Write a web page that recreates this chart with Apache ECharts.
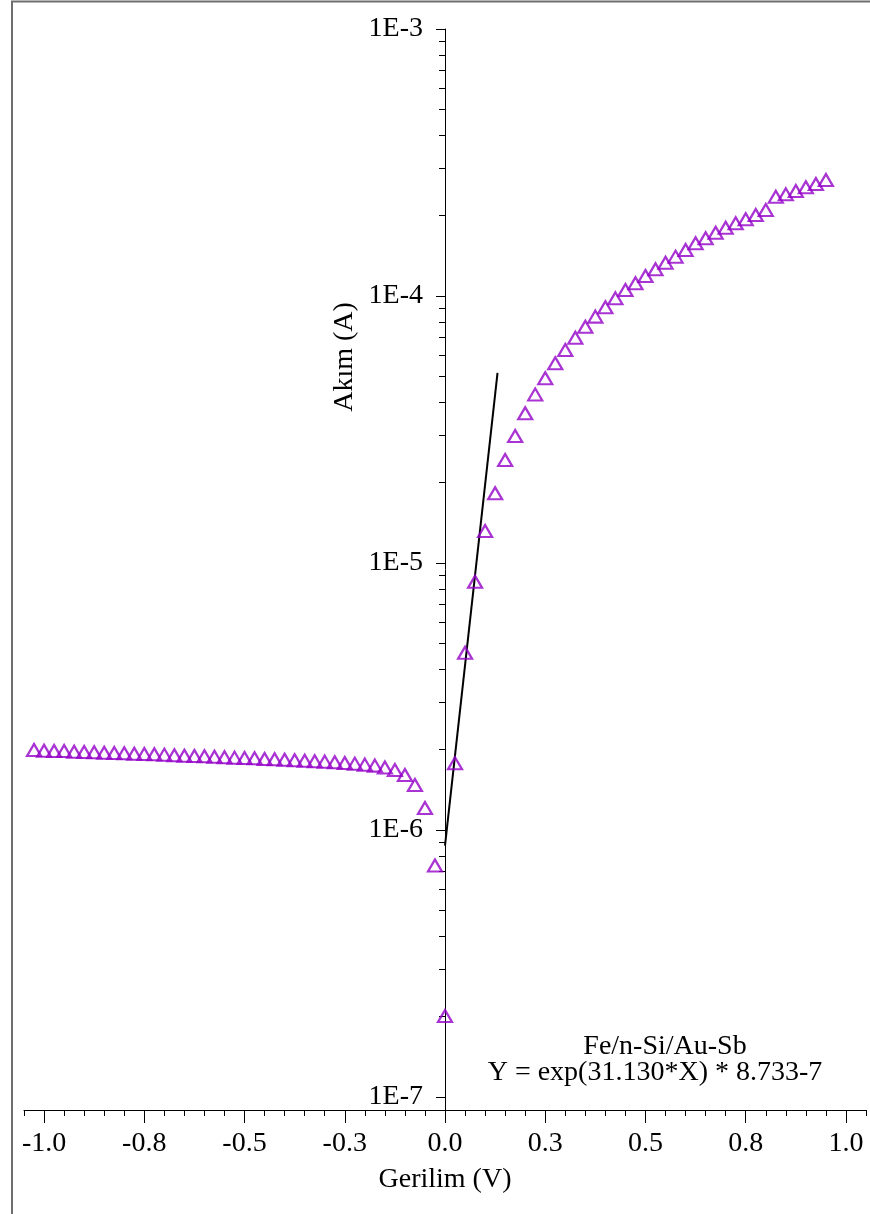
<!DOCTYPE html>
<html>
<head>
<meta charset="utf-8">
<script src="https://cdn.jsdelivr.net/npm/echarts@6/dist/echarts.min.js"></script>
<style>
  html, body { margin: 0; padding: 0; background: #ffffff; }
  #chart { width: 870px; height: 1214px; }
</style>
</head>
<body>
<div id="chart"></div>
<script>
// I-V measurement of the Fe/n-Si/Au-Sb diode (current on a log scale)
const reverseVoltage = [
  -1.025, -1.0, -0.975, -0.95, -0.925, -0.9, -0.875, -0.85, -0.825, -0.8,
  -0.775, -0.75, -0.725, -0.7, -0.675, -0.65, -0.625, -0.6, -0.575, -0.55,
  -0.525, -0.5, -0.475, -0.45, -0.425, -0.4, -0.375, -0.35, -0.325, -0.3,
  -0.275, -0.25, -0.225, -0.2, -0.175, -0.15, -0.125, -0.1, -0.075, -0.05,
  -0.025
];
const reverseCurrent = [
  1.994e-6, 1.982e-6, 1.977e-6, 1.977e-6, 1.963e-6, 1.960e-6, 1.955e-6, 1.948e-6, 1.943e-6, 1.938e-6,
  1.931e-6, 1.926e-6, 1.921e-6, 1.915e-6, 1.905e-6, 1.898e-6, 1.893e-6, 1.888e-6, 1.882e-6, 1.872e-6,
  1.866e-6, 1.861e-6, 1.856e-6, 1.845e-6, 1.840e-6, 1.834e-6, 1.824e-6, 1.818e-6, 1.809e-6, 1.803e-6,
  1.794e-6, 1.783e-6, 1.772e-6, 1.757e-6, 1.742e-6, 1.715e-6, 1.678e-6, 1.607e-6, 1.474e-6, 1.209e-6,
  7.36e-7
];
const forwardVoltage = [
  0.0, 0.025, 0.05, 0.075, 0.1, 0.125, 0.15, 0.175, 0.2, 0.225,
  0.25, 0.275, 0.3, 0.325, 0.35, 0.375, 0.4, 0.425, 0.45, 0.475,
  0.5, 0.525, 0.55, 0.575, 0.6, 0.625, 0.65, 0.675, 0.7, 0.725,
  0.75, 0.775, 0.8, 0.825, 0.85, 0.875, 0.9, 0.925, 0.95
];
const forwardCurrent = [
  2.01e-7, 1.777e-6, 4.61e-6, 8.51e-6, 1.318e-5, 1.824e-5, 2.43e-5, 2.99e-5, 3.64e-5, 4.28e-5,
  4.92e-5, 5.60e-5, 6.28e-5, 6.98e-5, 7.67e-5, 8.37e-5, 9.07e-5, 9.80e-5, 1.053e-4, 1.116e-4,
  1.188e-4, 1.259e-4, 1.333e-4, 1.404e-4, 1.487e-4, 1.576e-4, 1.645e-4, 1.726e-4, 1.802e-4, 1.872e-4,
  1.938e-4, 2.011e-4, 2.10e-4, 2.353e-4, 2.403e-4, 2.473e-4, 2.553e-4, 2.627e-4, 2.720e-4
];

// exponential fit Y = exp(a*X) * b, drawn over its fitted voltage range
const fitA = 31.130;
const fitB = 8.733e-7;
const fitVoltageRange = [0.0, 0.131];

// axis ticks and labels
const xMajorTicks = [-1.0, -0.75, -0.5, -0.25, 0.0, 0.25, 0.5, 0.75, 1.0];
const xTickLabels = ['-1.0', '-0.8', '-0.5', '-0.3', '0.0', '0.3', '0.5', '0.8', '1.0'];
const yDecades = [-7, -6, -5, -4, -3];
const yTickLabels = ['1E-7', '1E-6', '1E-5', '1E-4', '1E-3'];

const sampleName = 'Fe/n-Si/Au-Sb';
const xTitle = 'Gerilim (V)';
const yTitle = 'Akım (A)';

// the current axis is a value axis over log10(I)
const lg = v => Math.log10(v);
const pairs = (xs, ys) => xs.map((x, i) => [x, lg(ys[i])]);

const yMinorTicks = [];
yDecades.slice(0, -1).forEach(d => {
  for (let k = 2; k <= 9; k++) yMinorTicks.push(d + Math.log10(k));
});

const fitLine = fitVoltageRange.map(x => [x, lg(Math.exp(fitA * x) * fitB)]);
const fitLabel = 'Y = exp(' + fitA.toFixed(3) + '*X) * ' + (fitB * 1e7).toFixed(3) + '-7';

const FONT = '"Liberation Serif", "Times New Roman", serif';
const textStyle = { fontFamily: FONT, fontSize: 28, color: '#000' };
const MARK_COLOR = '#9400c8';

const Y_MIN = -7.0487, Y_MAX = -3;
const X_MIN = -1.05, X_MAX = 1.05;
const GRID_LEFT = 24;

const chart = echarts.init(document.getElementById('chart'), null, { renderer: 'canvas' });

const xBase = {
  type: 'value', min: X_MIN, max: X_MAX, interval: 0.05, position: 'bottom',
  splitLine: { show: false }
};
const yBase = {
  type: 'value', min: Y_MIN, max: Y_MAX, position: 'left',
  splitLine: { show: false }
};

const option = {
  animation: false,
  backgroundColor: '#ffffff',
  grid: { left: GRID_LEFT, right: 4, top: 29, bottom: 104, containLabel: false, outerBoundsMode: 'none' },
  xAxis: [
    Object.assign({}, xBase, {
      name: xTitle, nameLocation: 'middle', nameGap: 56,
      nameTextStyle: textStyle,
      axisLine: { onZero: false, lineStyle: { color: '#000', width: 1 } },
      axisTick: { customValues: xMajorTicks, length: 13, lineStyle: { color: '#000', width: 1 } },
      axisLabel: Object.assign({
        customValues: xMajorTicks, margin: 20,
        formatter: v => xTickLabels[xMajorTicks.findIndex(t => Math.abs(t - v) < 1e-9)]
      }, textStyle)
    }),
    Object.assign({}, xBase, {
      axisLine: { show: false, onZero: false },
      axisTick: { length: 6, lineStyle: { color: '#000', width: 1 } },
      axisLabel: { show: false }
    })
  ],
  yAxis: [
    Object.assign({}, yBase, {
      axisLine: { onZero: false, lineStyle: { color: '#000', width: 1 } },
      axisTick: { customValues: yDecades, length: 9, lineStyle: { color: '#000', width: 1 } },
      axisLabel: Object.assign({
        customValues: yDecades, margin: 22,
        formatter: v => yTickLabels[yDecades.findIndex(t => Math.abs(t - v) < 1e-9)]
      }, textStyle)
    }),
    Object.assign({}, yBase, {
      axisLine: { show: false, onZero: false },
      axisTick: { customValues: yMinorTicks, length: 6, lineStyle: { color: '#000', width: 1 } },
      axisLabel: { show: false }
    })
  ],
  series: [
    {
      type: 'line', name: 'fit', xAxisIndex: 0, yAxisIndex: 0,
      data: fitLine, showSymbol: false, symbol: 'none',
      lineStyle: { color: '#000', width: 2 }, z: 3
    },
    {
      type: 'scatter', name: 'reverse', xAxisIndex: 0, yAxisIndex: 0,
      data: pairs(reverseVoltage, reverseCurrent),
      symbol: 'triangle', symbolSize: [14, 12],
      itemStyle: { color: 'rgba(0,0,0,0)', borderColor: MARK_COLOR, borderWidth: 2.2 }, z: 4
    },
    {
      type: 'scatter', name: 'forward', xAxisIndex: 0, yAxisIndex: 0,
      data: pairs(forwardVoltage, forwardCurrent),
      symbol: 'triangle', symbolSize: [14, 12],
      itemStyle: { color: 'rgba(0,0,0,0)', borderColor: MARK_COLOR, borderWidth: 2.2 }, z: 4
    }
  ],
  graphic: [
    // frame
    { type: 'rect', shape: { x: 12, y: 1.5, width: 900, height: 1300 },
      style: { fill: 'none', stroke: '#6e6e6e', lineWidth: 2 }, z: 0, silent: true },
    { type: 'text', x: 345, y: 357, rotation: Math.PI / 2,
      style: { text: yTitle, font: '28px ' + FONT, fill: '#000', align: 'center', verticalAlign: 'middle' } },
    { type: 'text', x: 665, y: 1047,
      style: { text: sampleName, font: '28px ' + FONT, fill: '#000', align: 'center', verticalAlign: 'middle' } },
    { type: 'text', x: 655, y: 1073,
      style: { text: fitLabel, font: '28px ' + FONT, fill: '#000', align: 'center', verticalAlign: 'middle' } }
  ]
};
chart.setOption(option);

// move the current axis across to V = 0 on the voltage scale
const zeroPx = chart.convertToPixel({ xAxisIndex: 0 }, 0);
const shift = -(zeroPx - GRID_LEFT);
chart.setOption({ yAxis: [{ offset: shift }, { offset: shift }] });
</script>
</body>
</html>
